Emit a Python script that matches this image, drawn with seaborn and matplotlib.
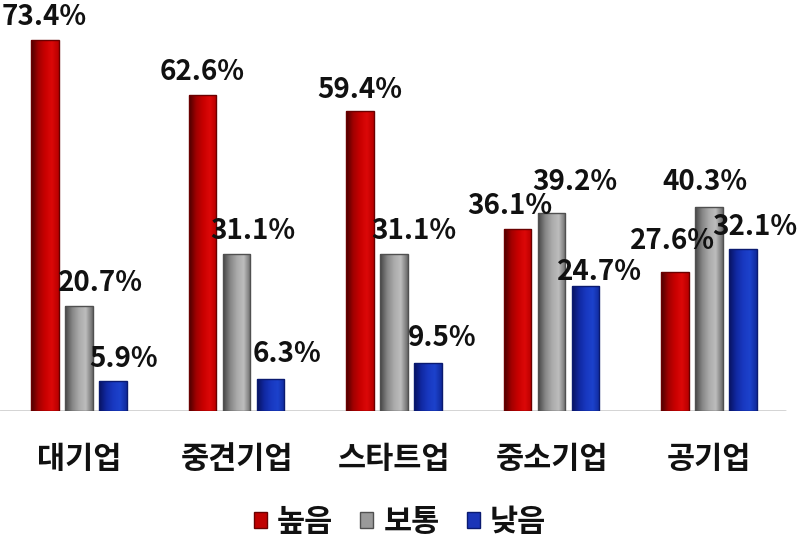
import numpy as np
import pandas as pd
import matplotlib
matplotlib.use("Agg")
import matplotlib.pyplot as plt
import seaborn as sns
from matplotlib.colors import LinearSegmentedColormap
from matplotlib.patches import Patch

# ---- data ----
categories = ["대기업", "중견기업", "스타트업", "중소기업", "공기업"]
series = ["높음", "보통", "낮음"]
high = [73.4, 62.6, 59.4, 36.1, 27.6]
normal = [20.7, 31.1, 31.1, 39.2, 40.3]
low = [5.9, 6.3, 9.5, 24.7, 32.1]

# ---- style (label nudges in px) ----
label_dx = [[-1, 0, 0, -8, -3], [21, 16, 20, 23, -4], [11, 16, 14, 14, 12]]
label_gap = [[15, 15, 13, 15, 23], [15, 15, 15, 23, 17], [14, 17, 17, 6, 14]]

sns.set_theme(style="white")
plt.rcParams["font.family"] = ["Noto Sans CJK KR", "DejaVu Sans"]

df = pd.DataFrame({
    "category": categories * 3,
    "level": [s for s in series for _ in categories],
    "value": high + normal + low,
})

base_colors = {"높음": "#c00000", "보통": "#9a9a9a", "낮음": "#1a35b8"}
edge_colors = ["#6a0000", "#505050", "#0a1a70"]
grads = [
    ["#4a0000", "#a00000", "#c80000", "#dc0808", "#b80000"],
    ["#454545", "#858585", "#aaaaaa", "#bdbdbd", "#6a6a6a"],
    ["#081260", "#1028a0", "#1838c0", "#1c42cc", "#102a9c"],
]

fig = plt.figure(figsize=(8, 5.42), dpi=100)
ax = fig.add_axes([0, 131 / 542, 1, 411 / 542])

sns.barplot(data=df, x="category", y="value", hue="level", order=categories,
            hue_order=series, palette=base_colors, width=0.648, gap=0.18,
            errorbar=None, saturation=1, legend=False, ax=ax)

xlim = (-79 / 157.5, (800 - 79) / 157.5)
ylim = (0, 411 / 5.05)

for i, cont in enumerate(ax.containers):
    cmap = LinearSegmentedColormap.from_list(f"g{i}", grads[i])
    for j, patch in enumerate(cont.patches):
        x0, y0 = patch.get_x(), patch.get_y()
        w, h = patch.get_width(), patch.get_height()
        grad = np.linspace(0, 1, 64).reshape(1, -1)
        im = ax.imshow(grad, cmap=cmap, extent=[x0, x0 + w, y0, y0 + h],
                       aspect="auto", zorder=patch.get_zorder() - 0.05,
                       interpolation="bilinear")
        im.set_clip_path(patch)
        patch.set_facecolor("none")
        patch.set_edgecolor(edge_colors[i])
        patch.set_linewidth(1.0)
        ax.annotate(f"{h:.1f}%", (x0 + w / 2, y0 + h),
                    xytext=(label_dx[i][j] * 0.72, label_gap[i][j] * 0.72),
                    textcoords="offset points", ha="center", va="baseline",
                    fontsize=20, fontweight="bold", color="#111111", zorder=5)

ax.set_xlim(*xlim)
ax.set_ylim(*ylim)
ax.axhline(0, xmin=0, xmax=785 / 800, color="#d0d0d0", lw=2, zorder=0.5)

for s in ax.spines.values():
    s.set_visible(False)
ax.set_yticks([])
ax.set_xlabel("")
ax.set_ylabel("")
ax.tick_params(axis="x", length=0, pad=23)
for lab in ax.get_xticklabels():
    lab.set_fontsize(22)
    lab.set_fontweight("bold")
    lab.set_color("#111111")

handles = [Patch(facecolor=base_colors[s], edgecolor=edge_colors[k], label=s)
           for k, s in enumerate(series)]
leg = fig.legend(handles=handles, loc="center", bbox_to_anchor=(0.5, 1 - 522 / 542),
                 ncol=3, frameon=False, handlelength=0.43, handleheight=0.43,
                 handletextpad=0.33, columnspacing=0.88,
                 prop={"size": 22, "weight": "bold",
                       "family": ["Noto Sans CJK KR", "DejaVu Sans"]})
for t in leg.get_texts():
    t.set_color("#111111")

fig.savefig("out.png", dpi=100)
